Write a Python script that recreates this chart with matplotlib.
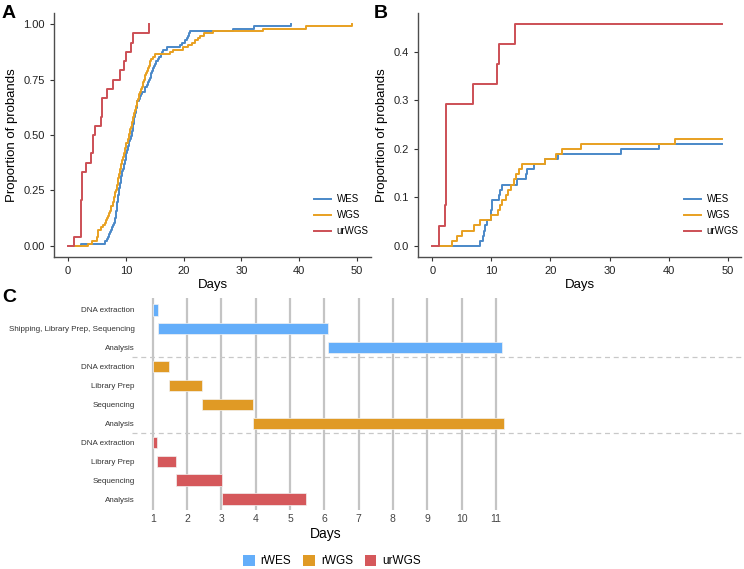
import matplotlib
matplotlib.use('Agg')
import matplotlib.pyplot as plt
from matplotlib.patches import Patch
from matplotlib import font_manager

plt.rcParams['font.family'] = ['Liberation Sans', 'DejaVu Sans']

# panel A: days to result for each proband (sorted)
wesDaysA = [2.3, 6.4, 6.7, 6.9, 7.1, 7.3, 7.5, 7.6, 7.8, 7.9, 8.1,
            8.2, 8.25, 8.3, 8.35, 8.4, 8.45, 8.5, 8.55, 8.6, 8.65, 8.7, 8.75, 8.8,
            8.9, 9.0, 9.05, 9.1, 9.2, 9.25, 9.3, 9.4, 9.5,
            9.6, 9.7, 9.8, 9.9, 10.0, 10.05, 10.1, 10.2, 10.3, 10.4,
            10.5, 10.6, 10.8, 10.9, 11.0,
            11.1, 11.2, 11.25, 11.3,
            11.4, 11.45, 11.5, 11.6, 11.65, 11.7, 11.8, 11.85, 11.9, 12.0,
            12.2, 12.4, 12.6, 12.8, 13.3,
            13.4, 13.6, 13.8, 14.0,
            14.1, 14.3, 14.4, 14.6, 14.7,
            14.9, 15.1, 15.3, 15.5, 15.8,
            16.0, 16.3, 16.5, 17.2, 19.4, 19.8, 20.2, 20.5, 20.7, 20.9, 21.1,
            28.6, 32.2, 38.6]
wgsDaysA = [3.5, 4.2, 5.0, 5.1, 5.15, 5.2, 5.2, 5.7, 6.1, 6.4,
            6.6, 6.8, 6.9, 7.1, 7.3, 7.4, 7.5, 7.7,
            7.8, 7.9, 8.0, 8.1, 8.2, 8.3, 8.4,
            8.5, 8.6, 8.65, 8.7, 8.8, 8.9, 9.0, 9.05, 9.1, 9.2,
            9.3, 9.4, 9.5, 9.6, 9.7, 9.8, 9.9, 10.0, 10.1, 10.3,
            10.4, 10.5, 10.6, 10.7, 10.8, 10.9, 11.0, 11.1, 11.2, 11.3,
            11.4, 11.5, 11.6, 11.7, 11.8, 11.9, 12.0, 12.1, 12.2, 12.3,
            12.5, 12.6, 12.8, 12.9, 13.0, 13.2, 13.3, 13.4, 13.5, 13.6,
            13.8, 14.0, 14.1, 14.2, 14.3,
            14.7, 15.0, 17.6, 18.2, 19.9, 20.8, 21.5, 22.0, 22.4, 22.8,
            23.5, 25.1, 33.8, 41.2, 49.1]
urDaysA = [1.0, 2.2, 2.25, 2.3, 2.3, 2.35, 2.4, 2.45, 3.1, 3.9, 4.3, 4.35,
           4.7, 5.7, 5.8, 5.9, 6.8, 7.7, 9.0, 9.7, 10.0, 10.9, 11.3, 14.0]

# panel B: days to diagnosis (out of all probands)
wesDaysB = [8.1, 8.5, 8.8, 9.0, 9.2, 9.9, 10.0, 10.1, 10.15, 11.3, 11.4, 11.8,
            14.4, 15.8, 16.0, 17.2, 19.1, 21.2, 32.0, 38.4]
wgsDaysB = [3.3, 4.1, 5.1, 7.0, 8.0, 9.9, 11.1, 11.4, 11.8, 12.4, 12.8, 13.3,
            13.8, 14.2, 14.6, 15.1, 19.0, 21.0, 22.0, 25.2, 41.1]
urDaysB = [1.2, 2.2, 2.25, 2.3, 2.3, 2.35, 2.4, 6.9, 10.9, 11.3, 14.0]
nWES = 95
nWGS = 95
nUR = 24

# panel C: gantt
taskLabels = ['DNA extraction', 'Shipping, Library Prep, Sequencing', 'Analysis',
              'DNA extraction', 'Library Prep', 'Sequencing', 'Analysis',
              'DNA extraction', 'Library Prep', 'Sequencing', 'Analysis']
taskGroup = ['rWES', 'rWES', 'rWES', 'rWGS', 'rWGS', 'rWGS', 'rWGS',
             'urWGS', 'urWGS', 'urWGS', 'urWGS']
taskStart = [1.0, 1.16, 6.1, 1.0, 1.47, 2.45, 3.91, 1.0, 1.13, 1.67, 3.02]
taskEnd = [1.16, 6.1, 11.19, 1.47, 2.45, 3.91, 11.24, 1.13, 1.67, 3.02, 5.46]

lineCol = {'WES': '#4A88C8', 'WGS': '#E8A020', 'urWGS': '#CC4F55'}
barCol = {'rWES': '#64AEFA', 'rWGS': '#E09A25', 'urWGS': '#D5585B'}

# narrow font for panel C if there is one
narrowFont = None
for fam in ['Liberation Sans Narrow', 'Arial Narrow']:
    try:
        font_manager.findfont(fam, fallback_to_default=False)
        narrowFont = fam
        break
    except ValueError:
        pass
if narrowFont:
    cFont = [narrowFont, 'Liberation Sans']
    cSize = 7.0
else:
    cFont = ['Liberation Sans']
    cSize = 5.8

W, H = 744, 569
fig = plt.figure(figsize=(W / 100, H / 100), dpi=100)


def rect(l, t, r, b):
    return [l / W, 1 - b / H, (r - l) / W, (b - t) / H]


def ecdf(days, n, start, end=None):
    xs = [start] + list(days)
    ys = [0.0] + [(i + 1) / n for i in range(len(days))]
    if end is not None:
        xs.append(end)
        ys.append(ys[-1])
    return xs, ys


def style(ax, yt, ylabs):
    for s in ['top', 'right']:
        ax.spines[s].set_visible(False)
    for s in ['left', 'bottom']:
        ax.spines[s].set_color('#4D4D4D')
        ax.spines[s].set_linewidth(1.0)
    ax.set_xticks([0, 10, 20, 30, 40, 50])
    ax.set_yticks(yt)
    ax.set_yticklabels(ylabs)
    ax.tick_params(labelsize=8, colors='#333333', length=3, width=0.8, labelcolor='#222222')
    ax.set_xlabel('Days', fontsize=9.5, labelpad=2)
    ax.set_ylabel('Proportion of probands', fontsize=9.5, labelpad=4)
    ax.legend(loc='lower right', frameon=False, fontsize=7, handlelength=1.7,
              handletextpad=0.6, bbox_to_anchor=(1.02, 0.05), labelspacing=0.6)


# panel A
axA = fig.add_axes(rect(54, 13, 371, 257))
x, y = ecdf(wesDaysA, nWES, 1.0)
axA.step(x, y, where='post', color=lineCol['WES'], lw=1.4, label='WES')
x, y = ecdf(wgsDaysA, nWGS, 1.0)
axA.step(x, y, where='post', color=lineCol['WGS'], lw=1.4, label='WGS')
x, y = ecdf(urDaysA, nUR, 0.0)
axA.step(x, y, where='post', color=lineCol['urWGS'], lw=1.4, label='urWGS')
axA.set_xlim(-2.42, 52.4)
axA.set_ylim(-0.05, 1.05)
style(axA, [0, 0.25, 0.5, 0.75, 1.0], ['0.00', '0.25', '0.50', '0.75', '1.00'])

# panel B
axB = fig.add_axes(rect(418, 13, 741, 257))
x, y = ecdf(wesDaysB, nWES, 1.2, 49)
axB.step(x, y, where='post', color=lineCol['WES'], lw=1.4, label='WES')
x, y = ecdf(wgsDaysB, nWGS, 1.2, 49)
axB.step(x, y, where='post', color=lineCol['WGS'], lw=1.4, label='WGS')
x, y = ecdf(urDaysB, nUR, 0.0, 49)
axB.step(x, y, where='post', color=lineCol['urWGS'], lw=1.4, label='urWGS')
axB.set_xlim(-2.42, 52.25)
axB.set_ylim(-0.023, 0.48)
style(axB, [0, 0.1, 0.2, 0.3, 0.4], ['0.0', '0.1', '0.2', '0.3', '0.4'])

# panel C
axC = fig.add_axes(rect(139, 298, 513, 510))
rows = list(range(len(taskLabels)))
for d in range(1, 12):
    axC.axvline(d, color='#C4C4C4', lw=1.6, zorder=0)
axC.barh(rows, [e - s for s, e in zip(taskStart, taskEnd)], left=taskStart, height=0.6,
         color=[barCol[g] for g in taskGroup], edgecolor='#F2F2F2', linewidth=0.5, zorder=2)
axC.set_xlim(0.6, 11.5)
axC.set_ylim(10.58, -0.63)
axC.set_yticks(rows)
axC.set_yticklabels(taskLabels, fontsize=cSize, family=cFont, color='#333333')
axC.set_xticks(range(1, 12))
axC.set_xticklabels([str(d) for d in range(1, 12)], fontsize=7.5, family=cFont, color='#444444')
axC.tick_params(length=0, pad=3)
for s in axC.spines.values():
    s.set_visible(False)
axC.set_xlabel('Days', fontsize=10, family=cFont, labelpad=2)
for yy in [2.5, 6.5]:
    axC.plot([-0.02, 1.61], [yy, yy], transform=axC.get_yaxis_transform(), clip_on=False,
             color='#C8C8C8', lw=0.9, ls=(0, (4, 3)))

handles = [Patch(facecolor=barCol[g], edgecolor='none', label=g) for g in ['rWES', 'rWGS', 'urWGS']]
fig.legend(handles=handles, loc='center', bbox_to_anchor=(332 / W, 1 - 561 / H), ncol=3,
           frameon=False, prop={'family': cFont, 'size': 8.5}, handlelength=1.0, handleheight=1.1,
           columnspacing=1.0, handletextpad=0.5)

# panel letters
for lab, px, py in [('A', 2, 14), ('B', 374, 14), ('C', 2, 298)]:
    fig.text(px / W, 1 - py / H, lab, fontsize=14, fontweight='bold', va='center')

fig.savefig('out.png', dpi=100)
